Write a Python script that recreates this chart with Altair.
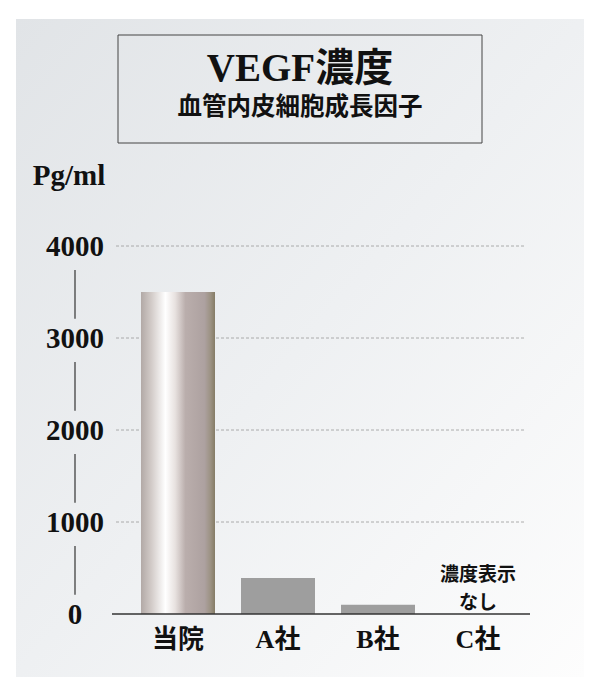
import altair as alt
import pandas as pd

# ---- data ----
categories = ["当院", "A社", "B社", "C社"]
values = [3500, 390, 100, None]
y_ticks = [0, 1000, 2000, 3000, 4000]
tick_labels = ["0", "1000", "2000", "3000", "4000"]
title_main = "VEGF濃度"
title_sub = "血管内皮細胞成長因子"
unit_label = "Pg/ml"
note_lines = ["濃度表示", "なし"]
note_category = "C社"

SERIF = "Liberation Serif, Noto Sans CJK JP"
CJK = "Noto Sans CJK JP"

bars = pd.DataFrame({"cat": categories, "val": values})
ticks = pd.DataFrame({"t": y_ticks, "label": tick_labels})
grid = pd.DataFrame({"t": [t for t in y_ticks if t > 0]})
segs = pd.DataFrame({"t": y_ticks[:-1]})
notes = pd.DataFrame({"cat": [note_category], "text": ["\n".join(note_lines)]})
one = pd.DataFrame({"a": [0]})

xscale = alt.Scale(domain=categories, paddingInner=0.26, paddingOuter=0.13)
yscale = alt.Scale(domain=[0, 4000], nice=False)
X = alt.X("cat:N", scale=xscale, axis=None, sort=categories)

card = alt.Chart(one).mark_rect(
    color=alt.Gradient(gradient="linear", x1=0, y1=0, x2=1, y2=1,
                       stops=[alt.GradientStop(color="#e1e4e7", offset=0),
                              alt.GradientStop(color="#eef0f2", offset=0.5),
                              alt.GradientStop(color="#fdfdfd", offset=1)])
).encode(x=alt.value(-112), x2=alt.value(456), y=alt.value(-227), y2=alt.value(431))

box = alt.Chart(one).mark_rect(filled=False, stroke="#444444", strokeWidth=1).encode(
    x=alt.value(-10), x2=alt.value(354), y=alt.value(-211), y2=alt.value(-103))

t_main = alt.Chart(one).mark_text(
    text=title_main, font=SERIF, fontSize=39, fontWeight="bold", color="#111111",
    align="center", baseline="middle").encode(x=alt.value(172), y=alt.value(-177))
t_sub = alt.Chart(one).mark_text(
    text=title_sub, font=CJK, fontSize=24.5, fontWeight="bold", color="#111111",
    align="center", baseline="middle").encode(x=alt.value(172), y=alt.value(-138))
t_unit = alt.Chart(one).mark_text(
    text=unit_label, font=SERIF, fontSize=29, fontWeight="bold", color="#111111",
    align="center", baseline="alphabetic").encode(x=alt.value(-59), y=alt.value(-61))

gridlines = alt.Chart(grid).mark_rule(color="#9a9a9a", strokeDash=[3, 2], strokeWidth=0.8).encode(
    y=alt.Y("t:Q", scale=yscale, axis=None), x=alt.value(-12), x2=alt.value(397))

seg_lines = alt.Chart(segs).transform_calculate(
    lo="datum.t + 210", hi="datum.t + 740"
).mark_rule(color="#333333", strokeWidth=1.2).encode(
    y=alt.Y("lo:Q", scale=yscale, axis=None), y2="hi:Q", x=alt.value(-53))

ylabels = alt.Chart(ticks).mark_text(
    font=SERIF, fontSize=29, fontWeight="bold", color="#111111", align="center",
    baseline="alphabetic", dy=10).encode(
    y=alt.Y("t:Q", scale=yscale, axis=None), x=alt.value(-53), text="label:N")

main_bar = alt.Chart(bars).transform_filter(alt.datum.cat == categories[0]).mark_bar(
    color=alt.Gradient(gradient="linear", x1=0, y1=0, x2=1, y2=0,
                       stops=[alt.GradientStop(color="#b2a9a6", offset=0),
                              alt.GradientStop(color="#d2cbc8", offset=0.14),
                              alt.GradientStop(color="#ffffff", offset=0.33),
                              alt.GradientStop(color="#e8e2e0", offset=0.46),
                              alt.GradientStop(color="#baaeac", offset=0.6),
                              alt.GradientStop(color="#ada1a0", offset=0.86),
                              alt.GradientStop(color="#9c9283", offset=0.94),
                              alt.GradientStop(color="#857c66", offset=1)])
).encode(x=X, y=alt.Y("val:Q", scale=yscale, axis=None))

other_bars = alt.Chart(bars).transform_filter(
    alt.datum.cat != categories[0]
).mark_bar(color="#9e9e9e").encode(x=X, y=alt.Y("val:Q", scale=yscale, axis=None))

baseline = alt.Chart(one).mark_rule(color="#333333", strokeWidth=1.5).encode(
    y=alt.datum(0, scale=yscale), x=alt.value(-16), x2=alt.value(402))

xlabels = alt.Chart(bars).mark_text(
    font=SERIF, fontSize=26, fontWeight="bold", color="#111111", align="center",
    baseline="middle").encode(x=X, y=alt.value(394), text="cat:N")

note = alt.Chart(notes).mark_text(
    font=CJK, fontSize=19, fontWeight="bold", color="#111111", align="center",
    baseline="middle", lineBreak="\n", lineHeight=28).encode(
    x=X, y=alt.value(329), text="text:N")

chart = alt.layer(
    card, box, t_main, t_sub, t_unit, gridlines, seg_lines, ylabels,
    main_bar, other_bars, baseline, xlabels, note
).properties(
    width=400, height=368,
    autosize=alt.AutoSizeParams(type="none"),
    padding={"left": 120, "top": 238, "right": 64, "bottom": 70},
    background="white",
).configure_view(stroke=None)

chart.save("out.html", embed_options={"renderer": "svg", "actions": False})
